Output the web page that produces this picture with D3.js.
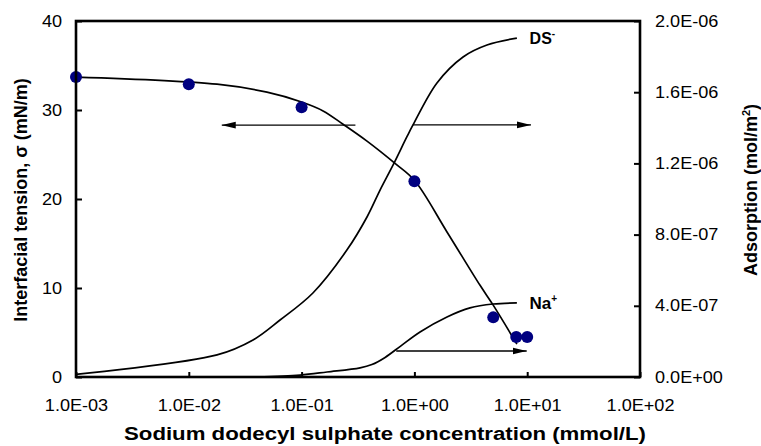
<!DOCTYPE html>
<html><head><meta charset="utf-8">
<script src="https://cdn.jsdelivr.net/npm/d3@7"></script>
<style>body{margin:0;background:#fff}svg{display:block}text{font-family:"Liberation Sans",Arial,sans-serif}</style>
</head><body>
<svg id="c" width="761" height="446"></svg>
<script>
// ---- data ----
const xTicks = [1e-3, 1e-2, 1e-1, 1e0, 1e1, 1e2];
const xTickLabels = ["1.0E-03","1.0E-02","1.0E-01","1.0E+00","1.0E+01","1.0E+02"];
const yLeftTicks = [0, 10, 20, 30, 40];
const yRightTicks = [0, 4e-7, 8e-7, 1.2e-6, 1.6e-6, 2e-6];
const yRightTickLabels = ["0.0E+00","4.0E-07","8.0E-07","1.2E-06","1.6E-06","2.0E-06"];

// measured interfacial tension (mN/m)
const iftConc = [0.001, 0.01, 0.1, 1, 5, 8, 10];
const iftValue = [33.7, 32.9, 30.3, 22.0, 6.7, 4.5, 4.5];

// model curve for interfacial tension
const iftFitConc = [0.001, 0.0178, 0.0493, 0.1, 0.155, 0.233, 0.38, 0.673, 1.0, 1.945, 3.82, 4.98, 8.1];
const iftFitValue = [33.7, 32.9, 32.0, 30.9, 29.9, 28.4, 26.5, 24.0, 22.1, 16.3, 10.3, 8.1, 3.7];

// DS- adsorption (mol/m2)
const dsConc = [0.001, 0.0178, 0.0371, 0.0644, 0.126, 0.252, 0.38, 0.496, 0.646, 0.859, 0.972, 1.585, 2.7, 4.4, 8.1];
const dsAds = [1.5e-8, 1.24e-7, 2.08e-7, 3.2e-7, 4.72e-7, 7.13e-7, 8.99e-7, 1.05e-6, 1.19e-6, 1.35e-6, 1.416e-6, 1.652e-6, 1.798e-6, 1.865e-6, 1.904e-6];

// Na+ adsorption (mol/m2)
const naConc = [0.04, 0.0968, 0.168, 0.33, 0.42, 0.55, 0.76, 1.122, 1.945, 3.11, 4.98, 8.1];
const naAds = [0, 1.1e-8, 2.8e-8, 5.1e-8, 7.0e-8, 1.1e-7, 1.75e-7, 2.53e-7, 3.37e-7, 3.88e-7, 4.1e-7, 4.16e-7];

// arrows: [fromConc, toConc, yValue, axis]
const arrows = [
  [0.3, 0.0196, 28.3, "left"],
  [0.97, 10.8, 1.416e-6, "right"],
  [0.69, 9.9, 1.46e-7, "right"]
];

// ---- layout ----
const L = 76, R = 640, T = 21, B = 377;
const svg = d3.select("#c");
const x = d3.scaleLog().domain([1e-3, 1e2]).range([L, R]);
const yL = d3.scaleLinear().domain([0, 40]).range([B, T]);
const yR = d3.scaleLinear().domain([0, 2e-6]).range([B, T]);
const HS = 1.13; // horizontal stretch of text in the reference
function stretch(sel, f) {
  sel.each(function(){ const w = this.getComputedTextLength(); d3.select(this).attr("textLength", w*f).attr("lengthAdjust","spacingAndGlyphs"); });
}

const defs = svg.append("defs");
defs.append("marker").attr("id","ah").attr("viewBox","0 0 14 8").attr("refX",14).attr("refY",4)
  .attr("markerWidth",14).attr("markerHeight",8).attr("markerUnits","userSpaceOnUse").attr("orient","auto")
  .append("path").attr("d","M0,0.6 L14,4 L0,7.4 Z").attr("fill","#000");

// curves
const lineL = d3.line().x(d=>x(d[0])).y(d=>yL(d[1])).curve(d3.curveCatmullRom.alpha(0.5));
const lineR = d3.line().x(d=>x(d[0])).y(d=>yR(d[1])).curve(d3.curveCatmullRom.alpha(0.5));

svg.append("path").attr("d", lineR(dsConc.map((c,i)=>[c, dsAds[i]])))
  .attr("fill","none").attr("stroke","#000").attr("stroke-width",1.7);
svg.append("path").attr("d", lineR(naConc.map((c,i)=>[c, naAds[i]])))
  .attr("fill","none").attr("stroke","#000").attr("stroke-width",1.7);
svg.append("path").attr("d", lineL(iftFitConc.map((c,i)=>[c, iftFitValue[i]])))
  .attr("fill","none").attr("stroke","#000").attr("stroke-width",1.7);

// arrows
arrows.forEach(a=>{
  const ys = a[3]==="left" ? yL : yR;
  svg.append("line").attr("x1",x(a[0])).attr("x2",x(a[1])).attr("y1",ys(a[2])).attr("y2",ys(a[2]))
    .attr("stroke","#000").attr("stroke-width",1.3).attr("marker-end","url(#ah)");
});

// points
svg.append("g").selectAll("circle").data(iftConc.map((c,i)=>[c, iftValue[i]])).join("circle")
  .attr("cx",d=>x(d[0])).attr("cy",d=>yL(d[1])).attr("r",6).attr("fill","#000080");

// frame
svg.append("rect").attr("x",L).attr("y",T).attr("width",R-L).attr("height",B-T)
  .attr("fill","none").attr("stroke","#000").attr("stroke-width",2.6);

// axes
const fs = "16px";
const gx = svg.append("g").attr("transform",`translate(0,${B})`)
  .call(d3.axisBottom(x).tickValues(xTicks).tickSizeInner(-5).tickSizeOuter(0).tickPadding(23)
    .tickFormat((d,i)=>xTickLabels[i]));
const gl = svg.append("g").attr("transform",`translate(${L},0)`)
  .call(d3.axisLeft(yL).tickValues(yLeftTicks).tickSizeInner(-6).tickSizeOuter(0).tickPadding(14));
const gr = svg.append("g").attr("transform",`translate(${R},0)`)
  .call(d3.axisRight(yR).tickValues(yRightTicks).tickSizeInner(-6).tickSizeOuter(0).tickPadding(15)
    .tickFormat((d,i)=>yRightTickLabels[i]));
[gx,gl,gr].forEach(g=>{
  g.select(".domain").remove();
  g.selectAll(".tick line").attr("stroke","#000").attr("stroke-width",2);
  g.selectAll(".tick text").attr("font-size",fs).attr("fill","#000").attr("font-family","Liberation Sans, Arial, sans-serif");
  stretch(g.selectAll(".tick text"), HS);
});

// series labels
const ds = svg.append("text").attr("x",x(10.5)).attr("y",yR(1.904e-6)+6).attr("font-size","16px").attr("font-weight","bold");
ds.append("tspan").text("DS");
ds.append("tspan").attr("dy",-7).attr("font-size","10px").text("-");
const na = svg.append("text").attr("x",x(10.5)).attr("y",yR(4.16e-7)+6).attr("font-size","17px").attr("font-weight","bold");
na.append("tspan").text("Na");
na.append("tspan").attr("dy",-7).attr("font-size","10px").text("+");

// axis titles
svg.append("text").attr("x",385).attr("y",440).attr("text-anchor","middle")
  .attr("font-size","18px").attr("font-weight","bold").text("Sodium dodecyl sulphate concentration (mmol/L)")
  .attr("textLength",522).attr("lengthAdjust","spacingAndGlyphs");
svg.append("text").attr("transform",`translate(27,200) rotate(-90)`).attr("text-anchor","middle")
  .attr("font-size","18px").attr("font-weight","bold").text("Interfacial tension, σ (mN/m)");
const rt = svg.append("text").attr("transform",`translate(757,190) rotate(-90)`).attr("text-anchor","middle")
  .attr("font-size","18px").attr("font-weight","bold");
rt.append("tspan").text("Adsorption (mol/m");
rt.append("tspan").attr("dy",-7).attr("font-size","11px").text("2");
rt.append("tspan").attr("dy",7).text(")");
</script>
</body></html>
